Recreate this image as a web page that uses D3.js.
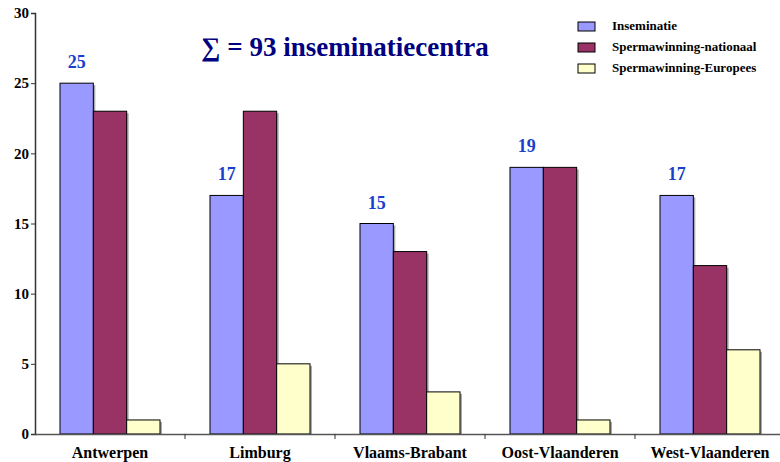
<!DOCTYPE html>
<html><head><meta charset="utf-8">
<script src="https://cdn.jsdelivr.net/npm/d3@7"></script>
<style>body{margin:0;background:#fff}svg{display:block}</style>
</head><body><svg id="c" width="780" height="462"></svg>
<script>
const categories = ["Antwerpen","Limburg","Vlaams-Brabant","Oost-Vlaanderen","West-Vlaanderen"];
const seriesNames = ["Inseminatie","Spermawinning-nationaal","Spermawinning-Europees"];
const inseminatie = [25,17,15,19,17];
const spermaNationaal = [23,23,13,19,12];
const spermaEuropees = [1,5,3,1,6];
const yTicks = [0,5,10,15,20,25,30];
const colors = ["#9999FF","#993366","#FFFFCC"];
const title = "\u2211 = 93 inseminatiecentra";

const FF = "'Liberation Serif','Times New Roman',Times,'DejaVu Serif',serif";
const series = [inseminatie, spermaNationaal, spermaEuropees];
const svg = d3.select("#c");
const x0 = d3.scaleBand().domain(categories).range([35,785]).padding(0);
const x1 = d3.scaleBand().domain(seriesNames).range([25,125]).padding(0);
const y = d3.scaleLinear().domain([0,30]).range([434,13]);

const g = svg.append("g");
categories.forEach((c,i)=>{
  series.forEach((s,j)=>{
    const xx = x0(c)+x1(seriesNames[j]);
    g.append("rect").attr("x",xx+2).attr("y",y(s[i])+2).attr("width",x1.bandwidth()).attr("height",y(0)-y(s[i])-2).attr("fill","#aaa");
  });
  series.forEach((s,j)=>{
    const xx = x0(c)+x1(seriesNames[j]);
    g.append("rect").attr("x",xx).attr("y",y(s[i])).attr("width",x1.bandwidth()).attr("height",y(0)-y(s[i])).attr("fill",colors[j]).attr("stroke","#000").attr("stroke-width",1);
  });
  g.append("text").attr("x",x0(c)+x1(seriesNames[0])+x1.bandwidth()/2).attr("y",y(inseminatie[i])-15)
   .attr("text-anchor","middle").attr("fill","#1a3fcc").style("font-family",FF).style("font-weight","bold").style("font-size","18px").text(inseminatie[i]);
});

const ya = svg.append("g").attr("transform","translate(35,0)")
  .call(d3.axisLeft(y).tickValues(yTicks).tickSize(4).tickPadding(2));
ya.select(".domain").attr("stroke","#333").attr("stroke-width",1.5);
ya.selectAll(".tick line").attr("stroke","#333");
ya.selectAll("text").attr("fill","#000").style("font-family",FF).style("font-weight","bold").style("font-size","15px");

const xa = svg.append("g").attr("transform","translate(0,434)")
  .call(d3.axisBottom(x0).tickSize(0).tickPadding(0));
xa.select(".domain").attr("stroke","#555").attr("stroke-width",1.5);
xa.selectAll("text").attr("fill","#000").attr("dy",0).attr("y",24).style("font-family",FF).style("font-weight","bold").style("font-size","16px");
svg.append("g").selectAll("line").data(categories.slice(1)).join("line")
  .attr("x1",d=>x0(d)).attr("x2",d=>x0(d)).attr("y1",434).attr("y2",439).attr("stroke","#333");

svg.append("text").attr("x",345).attr("y",56).attr("text-anchor","middle").attr("fill","#000080")
  .style("font-family",FF).style("font-weight","bold").style("font-size","27px").text(title);

const lg = svg.append("g");
seriesNames.forEach((n,j)=>{
  lg.append("rect").attr("x",578).attr("y",22+j*21).attr("width",17).attr("height",9).attr("fill",colors[j]).attr("stroke","#000");
  lg.append("text").attr("x",612).attr("y",30+j*21).attr("fill","#000").style("font-family",FF).style("font-weight","bold").style("font-size","13px").text(n);
});
</script></body></html>
